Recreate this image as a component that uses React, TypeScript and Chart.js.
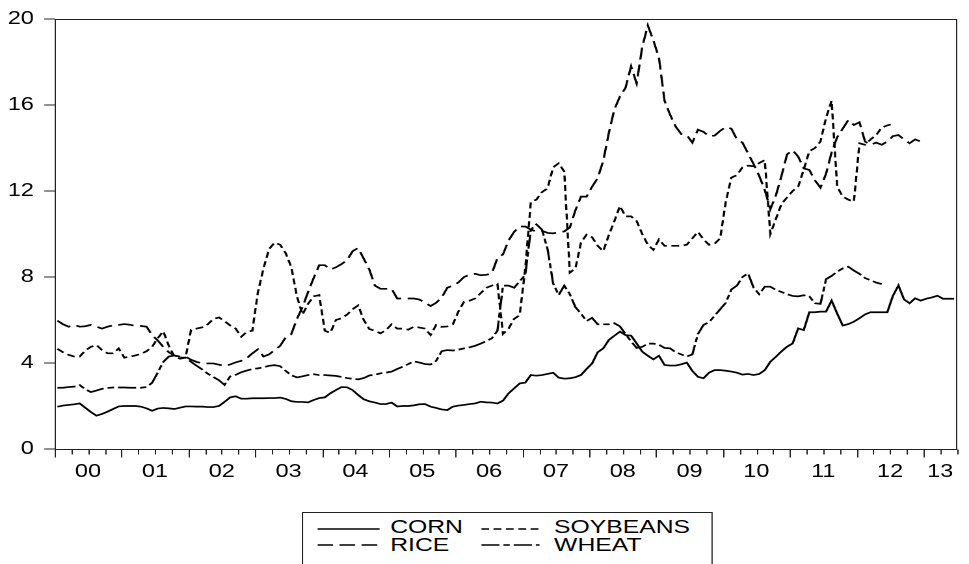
import React, { useEffect, useRef } from 'react';
import { Chart, registerables } from 'chart.js';

Chart.register(...registerables);

// ---------- data ----------
const YEAR_LABELS = ['00', '01', '02', '03', '04', '05', '06', '07', '08', '09', '10', '11', '12', '13'];
const Y_TICKS = [0, 4, 8, 12, 16, 20];
const MONTHS_TOTAL = 162; // 2000M01 .. 2013M06

const CORN = [
  1.97, 2.02, 2.05, 2.08, 2.12, 1.92, 1.72, 1.55, 1.63, 1.74, 1.86, 1.98,
  2.0, 2.0, 2.0, 1.97, 1.89, 1.78, 1.88, 1.91, 1.89, 1.86, 1.92, 1.98,
  1.98, 1.97, 1.97, 1.95, 1.95, 2.0, 2.19, 2.4, 2.45, 2.34, 2.34, 2.36,
  2.36, 2.36, 2.37, 2.37, 2.39, 2.33, 2.22, 2.19, 2.19, 2.17, 2.28, 2.37,
  2.4, 2.59, 2.74, 2.88, 2.87, 2.74, 2.51, 2.31, 2.22, 2.16, 2.09, 2.09,
  2.16, 1.98, 2.0, 2.0, 2.03, 2.08, 2.09, 1.97, 1.91, 1.84, 1.81, 1.97,
  2.02, 2.05, 2.09, 2.12, 2.2, 2.17, 2.16, 2.12, 2.25, 2.59, 2.82, 3.05,
  3.09, 3.44, 3.41, 3.44, 3.49, 3.55, 3.32, 3.27, 3.29, 3.34, 3.44, 3.72,
  3.98, 4.5, 4.68, 5.07, 5.27, 5.46, 5.3, 5.27, 4.91, 4.53, 4.34, 4.17,
  4.34, 3.91, 3.88, 3.88, 3.94, 4.02, 3.63, 3.36, 3.29, 3.55, 3.67, 3.67,
  3.64, 3.6, 3.55, 3.46, 3.49, 3.44, 3.49, 3.67, 4.06, 4.29, 4.54, 4.76,
  4.91, 5.61, 5.53, 6.36, 6.36, 6.39, 6.39, 6.9, 6.3, 5.74, 5.81, 5.92,
  6.08, 6.26, 6.36, 6.36, 6.36, 6.36, 7.12, 7.61, 6.96, 6.78, 7.01, 6.9,
  6.99, 7.05, 7.13, 6.99, 6.99, 6.99,
];

const SOYBEANS = [
  4.66, 4.5, 4.38, 4.3, 4.3, 4.58, 4.75, 4.84, 4.6, 4.45, 4.45, 4.68,
  4.25, 4.29, 4.35, 4.42, 4.55, 4.75, 5.15, 5.48, 4.8, 4.3, 4.2, 4.25,
  5.55, 5.6, 5.66, 5.8, 6.05, 6.12, 5.95, 5.75, 5.6, 5.22, 5.45, 5.5,
  7.3, 8.4, 9.3, 9.6, 9.5, 9.1, 8.45, 7.1, 6.25, 6.75, 7.1, 7.16,
  5.5, 5.4, 6.0, 6.08, 6.25, 6.5, 6.68, 6.0, 5.58, 5.5, 5.38, 5.53,
  5.8, 5.6, 5.6, 5.55, 5.69, 5.65, 5.6, 5.3, 5.77, 5.68, 5.7, 5.8,
  6.4, 6.85, 6.9, 7.0, 7.25, 7.5, 7.6, 7.68, 5.35, 5.6, 6.05, 6.23,
  8.4, 11.5, 11.6, 11.95, 12.12, 13.1, 13.29, 12.9, 8.2, 8.4, 9.6, 9.97,
  9.85, 9.45, 9.2, 9.95, 10.6, 11.3, 10.82, 10.82, 10.6, 10.0, 9.5, 9.26,
  9.75, 9.45, 9.45, 9.45, 9.45, 9.5, 9.8, 10.1, 9.75, 9.5, 9.55, 9.8,
  11.5, 12.62, 12.74, 13.1, 13.18, 13.15, 13.3, 13.44, 10.0, 10.7, 11.4, 11.7,
  12.0, 12.2, 13.0, 13.85, 14.0, 14.3, 15.4, 16.2, 12.2, 11.74, 11.6, 11.5,
  14.22, 14.15, 14.4, 14.6, 14.95, 15.05, 15.12,
];

const RICE = [
  5.97, 5.8, 5.69, 5.77, 5.69, 5.71, 5.77, 5.69, 5.6, 5.69, 5.75, 5.77,
  5.81, 5.78, 5.72, 5.72, 5.69, 5.3, 5.05, 4.75, 4.5, 4.35, 4.3, 4.3,
  4.15, 4.05, 3.98, 3.98, 3.98, 3.92, 3.86, 3.93, 4.03, 4.1, 4.22, 4.45,
  4.64, 4.3, 4.4, 4.6, 4.8, 5.2, 5.35, 6.05, 6.6, 7.3, 7.95, 8.55,
  8.55, 8.35, 8.45, 8.6, 8.78, 9.2, 9.35, 8.85, 8.35, 7.6, 7.45, 7.45,
  7.45, 7.0, 7.0, 7.0, 7.0, 6.95, 6.8, 6.65, 6.8, 7.05, 7.5, 7.6,
  7.75, 8.0, 8.1, 8.15, 8.08, 8.1, 8.17, 8.88, 9.05, 9.7, 10.1, 10.35,
  10.35, 10.2, 10.12, 10.15, 10.05, 10.03, 10.08, 10.12, 10.3, 11.1, 11.74, 11.74,
  12.2, 12.6, 13.4, 14.7, 15.8, 16.4, 16.8, 17.8, 17.0, 18.7, 19.7, 19.0,
  18.2, 16.2, 15.55, 15.0, 14.65, 14.6, 14.25, 14.85, 14.75, 14.55, 14.58, 14.8,
  14.98, 14.9, 14.4, 14.25, 13.75, 13.25, 12.7, 12.05, 11.15, 11.8, 12.7, 13.7,
  13.9, 13.6, 13.05, 12.98, 12.5, 12.15, 12.8, 13.8, 14.5, 14.9, 15.3, 15.07,
  15.2, 14.3, 14.15, 14.25, 14.15, 14.3, 14.55, 14.6, 14.4, 14.22, 14.4, 14.3,
];

const WHEAT = [
  2.85, 2.85, 2.88, 2.9, 2.97, 2.78, 2.65, 2.72, 2.8, 2.84, 2.86, 2.86,
  2.86, 2.85, 2.85, 2.85, 2.88, 3.08, 3.55, 4.05, 4.3, 4.35, 4.25, 4.25,
  4.05, 3.87, 3.7, 3.5, 3.35, 3.2, 2.98, 3.37, 3.45, 3.57, 3.65, 3.72,
  3.75, 3.8, 3.87, 3.9, 3.85, 3.63, 3.43, 3.33, 3.38, 3.44, 3.48, 3.44,
  3.44, 3.42, 3.4, 3.35, 3.3, 3.26, 3.24, 3.3, 3.42, 3.45, 3.52, 3.55,
  3.6, 3.72, 3.83, 3.95, 4.08, 4.02, 3.95, 3.93, 4.1, 4.55, 4.6, 4.58,
  4.62, 4.68, 4.73, 4.8, 4.9, 5.02, 5.15, 5.5, 7.6, 7.6, 7.5, 7.8,
  8.1, 10.2, 10.45, 10.2, 9.3, 7.7, 7.16, 7.6, 7.2, 6.6, 6.3, 5.95,
  6.1, 5.8, 5.8, 5.8, 5.85, 5.7, 5.35, 5.0, 4.7, 4.75, 4.9, 4.9,
  4.85, 4.7, 4.68, 4.5, 4.4, 4.3, 4.4, 5.35, 5.77, 5.9, 6.2, 6.5,
  6.8, 7.42, 7.6, 8.0, 8.17, 7.5, 7.2, 7.55, 7.55, 7.4, 7.3, 7.2,
  7.12, 7.1, 7.15, 7.1, 6.78, 6.75, 7.9, 8.05, 8.25, 8.4, 8.48, 8.3,
  8.15, 7.95, 7.85, 7.74, 7.67,
];

const SERIES = [
  { label: 'CORN', values: CORN, dash: [] as number[] },
  { label: 'SOYBEANS', values: SOYBEANS, dash: [6, 3.5] },
  { label: 'RICE', values: RICE, dash: [12, 5] },
  { label: 'WHEAT', values: WHEAT, dash: [14, 3, 5, 3] },
];

// ---------- layout ----------
const OUT_W = 969;
const OUT_H = 564;
const BASE_W = 745;
const STRETCH = OUT_W / BASE_W;
const FONT = "'Liberation Sans', Arial, Helvetica, sans-serif";
const INK = '#222';

const LEGEND_BOX = { left: 232, top: 511.5, width: 315.5, height: 70 };
const LEGEND_COLS = [
  { sampleLeft: 10.5, sampleWidth: 48, textLeft: 67 },
  { sampleLeft: 136.5, sampleWidth: 45, textLeft: 193 },
];
const LEGEND_ROWS = [
  { textTop: 4.5, lineY: 16.3 },
  { textTop: 22.5, lineY: 32.5 },
];

const frameTicksPlugin = {
  id: 'frameTicks',
  afterDraw(chart: any) {
    const { ctx, chartArea: a, scales } = chart;
    const xs = scales.x;
    ctx.save();
    ctx.strokeStyle = INK;
    ctx.lineWidth = 1;
    const l = Math.round(a.left) + 0.5;
    const r = Math.round(a.right) - 0.5;
    const t = Math.round(a.top) + 0.5;
    const b = Math.round(a.bottom) + 0.5;
    ctx.strokeRect(l, t, r - l, b - t);
    ctx.beginPath();
    for (let m = 0; m <= MONTHS_TOTAL; m += 3) {
      const x = Math.round(xs.getPixelForValue(m)) + 0.5;
      const len = m % 12 === 0 ? 8 : 5;
      ctx.moveTo(x, b);
      ctx.lineTo(x, b + len);
    }
    ctx.stroke();
    ctx.restore();
  },
};

function Legend() {
  return (
    <div
      style={{
        position: 'absolute',
        left: LEGEND_BOX.left,
        top: LEGEND_BOX.top,
        width: LEGEND_BOX.width,
        height: LEGEND_BOX.height,
        border: `1px solid ${INK}`,
        boxSizing: 'border-box',
        background: '#fff',
      }}
    >
      {SERIES.map((s, i) => {
        const col = LEGEND_COLS[i % 2];
        const row = LEGEND_ROWS[Math.floor(i / 2)];
        return (
          <React.Fragment key={s.label}>
            <svg
              width={col.sampleWidth}
              height={6}
              style={{ position: 'absolute', left: col.sampleLeft, top: row.lineY - 3 }}
            >
              <line
                x1={0}
                y1={3}
                x2={col.sampleWidth}
                y2={3}
                stroke="#000"
                strokeWidth={1.4}
                strokeDasharray={s.dash.length ? s.dash.join(' ') : undefined}
              />
            </svg>
            <div
              style={{
                position: 'absolute',
                left: col.textLeft,
                top: row.textTop,
                fontFamily: FONT,
                fontSize: 19,
                lineHeight: '20px',
                color: '#000',
                whiteSpace: 'nowrap',
              }}
            >
              {s.label}
            </div>
          </React.Fragment>
        );
      })}
    </div>
  );
}

export default function App() {
  const canvasRef = useRef<HTMLCanvasElement>(null);

  useEffect(() => {
    const canvas = canvasRef.current;
    if (!canvas) return;
    const chart = new Chart(canvas, {
      type: 'line',
      data: {
        datasets: SERIES.map((s) => ({
          label: s.label,
          data: s.values.map((v, i) => ({ x: i + 0.5, y: v })),
          borderColor: '#000',
          backgroundColor: '#000',
          borderWidth: 1.7,
          borderDash: s.dash,
          pointRadius: 0,
          pointHoverRadius: 0,
          tension: 0,
          fill: false,
        })),
      },
      options: {
        animation: false,
        responsive: false,
        devicePixelRatio: 2,
        events: [],
        layout: { padding: { top: 19, right: 7, bottom: 0, left: 0 } },
        plugins: {
          legend: { display: false },
          tooltip: { enabled: false },
          title: { display: false },
        },
        scales: {
          x: {
            type: 'linear',
            min: 0,
            max: MONTHS_TOTAL,
            grid: { display: false, drawTicks: false },
            border: { display: false },
            afterBuildTicks: (scale: any) => {
              scale.ticks = YEAR_LABELS.map((_, k) => ({
                value: (k * 12 + Math.min(k * 12 + 12, MONTHS_TOTAL)) / 2,
              }));
            },
            afterFit: (scale: any) => {
              scale.height = 115;
            },
            ticks: {
              autoSkip: false,
              maxRotation: 0,
              minRotation: 0,
              padding: 12,
              color: '#000',
              font: { family: FONT, size: 18 },
              callback: (v: any) => YEAR_LABELS[Math.floor(Number(v) / 12)],
            },
          },
          y: {
            type: 'linear',
            min: 0,
            max: 20,
            grid: {
              display: true,
              drawOnChartArea: false,
              drawTicks: true,
              tickLength: 8,
              color: INK,
              lineWidth: 1,
            },
            border: { display: false },
            afterBuildTicks: (scale: any) => {
              scale.ticks = Y_TICKS.map((v) => ({ value: v }));
            },
            afterFit: (scale: any) => {
              scale.width = 42;
            },
            ticks: {
              padding: 8,
              color: '#000',
              font: { family: FONT, size: 18 },
              callback: (v: any) => String(v),
            },
          },
        },
      },
      plugins: [frameTicksPlugin],
    } as any);
    return () => chart.destroy();
  }, []);

  return (
    <div
      style={{
        position: 'fixed',
        left: 0,
        top: 0,
        width: OUT_W,
        height: OUT_H,
        overflow: 'hidden',
        background: '#fff',
      }}
    >
      <div
        style={{
          position: 'absolute',
          left: 0,
          top: 0,
          width: BASE_W,
          height: OUT_H,
          transform: `scaleX(${STRETCH})`,
          transformOrigin: '0 0',
        }}
      >
        <canvas ref={canvasRef} width={BASE_W} height={OUT_H} style={{ display: 'block' }} />
        <Legend />
      </div>
    </div>
  );
}
